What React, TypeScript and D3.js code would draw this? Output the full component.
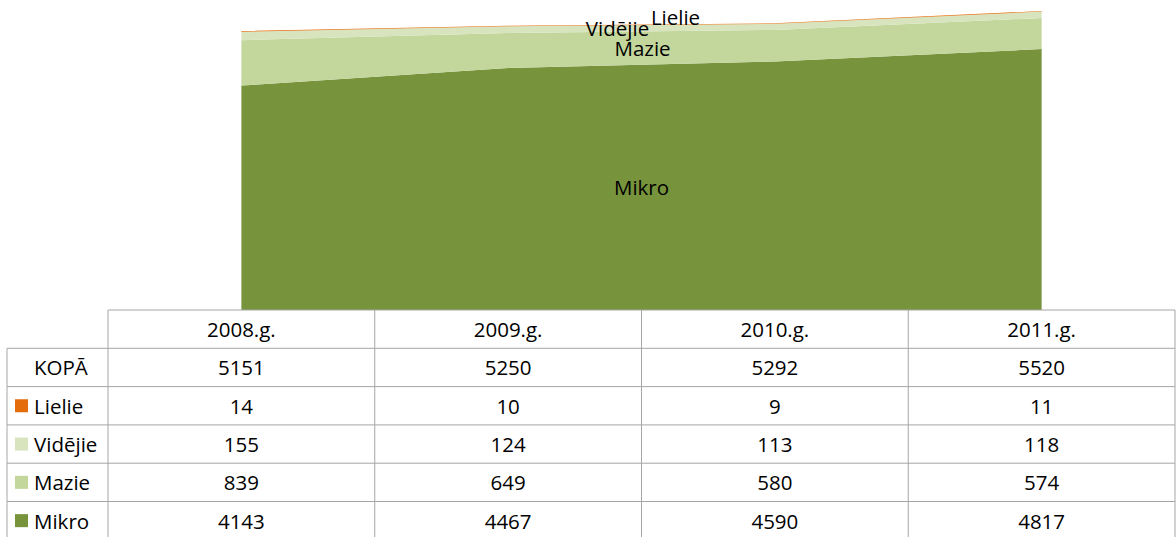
import React from 'react';
import * as d3 from 'd3';

const years = ['2008.g.', '2009.g.', '2010.g.', '2011.g.'];
const seriesNames = ['Mikro', 'Mazie', 'Vidējie', 'Lielie'];
const mikro = [4143, 4467, 4590, 4817];
const mazie = [839, 649, 580, 574];
const videjie = [155, 124, 113, 118];
const lielie = [14, 10, 9, 11];
const kopa = [5151, 5250, 5292, 5520];
const colors = ['#77933c', '#c3d69b', '#d7e4bd', '#e46c0a'];

const W = 1176;
const H = 537;
const tableTop = 310;
const rowH = 38.3;
const labelLeft = 7;
const font = '"Open Sans", sans-serif';
const fs = 20.5;

const App = () => {
  const values = [mikro, mazie, videjie, lielie];
  const rows = years.map((y, i) => {
    const r: any = { year: y };
    seriesNames.forEach((s, j) => (r[s] = values[j][i]));
    return r;
  });
  const stacked = d3.stack().keys(seriesNames)(rows);

  const x = d3.scaleBand().domain(years).range([108, 1175]).padding(0);
  const cx = (y: string) => (x(y) as number) + x.bandwidth() / 2;
  const yScale = d3.scaleLinear().domain([0, 5520]).range([tableTop, 11]);

  const area = d3
    .area<any>()
    .x(d => cx(d.data.year))
    .y0(d => yScale(d[0]))
    .y1(d => yScale(d[1]));

  // data labels placed near the middle of the plot, like the original
  const midX = (cx(years[1]) + cx(years[2])) / 2;
  const midOf = (s: any) => {
    const a = s[1], b = s[2];
    return yScale(((a[0] + b[0]) / 2 + (a[1] + b[1]) / 2) / 2);
  };
  const labelShift: Record<string, [number, number]> = {
    Mikro: [0, 0],
    Mazie: [1, 0],
    Vidējie: [-24, 0],
    Lielie: [34, -8],
  };

  const tableRows: { name: string; color: string | null; vals: number[] }[] = [
    { name: 'KOPĀ', color: null, vals: kopa },
    { name: 'Lielie', color: colors[3], vals: lielie },
    { name: 'Vidējie', color: colors[2], vals: videjie },
    { name: 'Mazie', color: colors[1], vals: mazie },
    { name: 'Mikro', color: colors[0], vals: mikro },
  ];
  const bottom = tableTop + rowH * 6;
  const lineColor = '#a6a6a6';

  return (
    <svg width={W} height={H} style={{ position: 'absolute', left: 0, top: 0 }} fontFamily={font}>
      {stacked.map((s, i) => (
        <path key={s.key} d={area(s as any) as string} fill={colors[i]} />
      ))}
      {stacked.map(s => (
        <text
          key={'l' + s.key}
          x={midX + labelShift[s.key][0]}
          y={midOf(s) + labelShift[s.key][1]}
          textAnchor="middle"
          dominantBaseline="central"
          fontSize={fs}
          fill="#000"
        >
          {s.key}
        </text>
      ))}

      {/* table grid */}
      <line x1={108} x2={1175} y1={tableTop} y2={tableTop} stroke={lineColor} />
      {d3.range(1, 7).map(i => (
        <line key={'h' + i} x1={labelLeft} x2={1175} y1={tableTop + rowH * i} y2={tableTop + rowH * i} stroke={lineColor} />
      ))}
      <line x1={labelLeft} x2={labelLeft} y1={tableTop + rowH} y2={bottom} stroke={lineColor} />
      {years.map(y => (
        <line key={'v' + y} x1={x(y)} x2={x(y)} y1={tableTop} y2={bottom} stroke={lineColor} />
      ))}
      <line x1={1175} x2={1175} y1={tableTop} y2={bottom} stroke={lineColor} />

      {years.map(y => (
        <text key={'t' + y} x={cx(y)} y={tableTop + rowH / 2} textAnchor="middle" dominantBaseline="central" fontSize={fs}>
          {y}
        </text>
      ))}
      {tableRows.map((r, i) => {
        const ry = tableTop + rowH * (i + 1) + rowH / 2;
        return (
          <g key={'r' + r.name}>
            {r.color && <rect x={15} y={ry - 6.5} width={13} height={13} fill={r.color} />}
            <text x={34} y={ry} dominantBaseline="central" fontSize={fs}>
              {r.name}
            </text>
            {r.vals.map((v, j) => (
              <text key={j} x={cx(years[j])} y={ry} textAnchor="middle" dominantBaseline="central" fontSize={fs}>
                {v}
              </text>
            ))}
          </g>
        );
      })}
    </svg>
  );
};

export default App;
